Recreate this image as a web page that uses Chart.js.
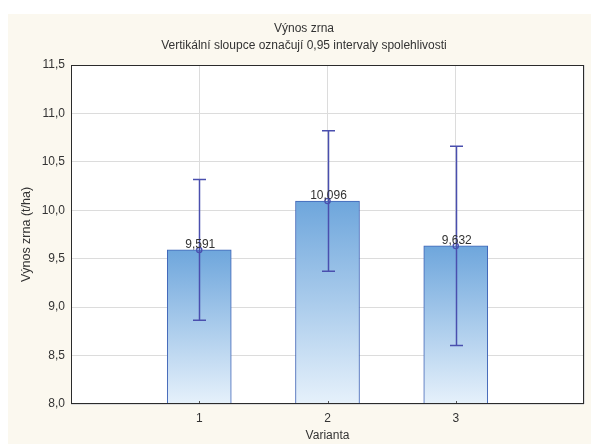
<!DOCTYPE html>
<html>
<head>
<meta charset="utf-8">
<script src="https://cdn.jsdelivr.net/npm/chart.js@4.4.1/dist/chart.umd.min.js"></script>
<style>
  html, body { margin: 0; padding: 0; background: #ffffff; }
  #wrap { width: 591px; height: 444px; position: relative; }
</style>
</head>
<body>
<div id="wrap"><canvas id="c" width="591" height="444"></canvas></div>
<script>
// ---- data ----
const categories = [1, 2, 3];
const means = [9.591, 10.096, 9.632];
const ciUpper = [10.318, 10.822, 10.660];
const ciLower = [8.864, 9.370, 8.605];
const yTicks = [8.0, 8.5, 9.0, 9.5, 10.0, 10.5, 11.0, 11.5];
const titleText = 'Výnos zrna';
const subtitleText = 'Vertikální sloupce označují 0,95 intervaly spolehlivosti';
const yTitle = 'Výnos zrna (t/ha)';
const xTitle = 'Varianta';

const FONT = '"Liberation Sans", Arial, sans-serif';
const TXT = '#333333';
const ERR = '#4a4fae';

const fmt = (v, d) => v.toFixed(d).replace('.', ',');

const bgPlugin = {
  id: 'bg',
  beforeDraw(chart) {
    const { ctx, chartArea: a } = chart;
    ctx.save();
    ctx.fillStyle = '#fbf8ef';
    ctx.fillRect(8, 14, chart.width - 8, chart.height - 14);
    ctx.fillStyle = '#ffffff';
    ctx.fillRect(a.left, a.top, a.right - a.left, a.bottom - a.top);
    ctx.fillStyle = TXT;
    ctx.font = '12px ' + FONT;
    ctx.textAlign = 'center';
    ctx.textBaseline = 'middle';
    ctx.fillText(titleText, 304, 29);
    ctx.fillText(subtitleText, 304, 46);
    ctx.restore();
  },
  afterDatasetsDraw(chart) {
    const { ctx, chartArea: a } = chart;
    const xs = chart.scales.x, ys = chart.scales.y;
    ctx.save();
    // error bars
    ctx.strokeStyle = ERR;
    ctx.lineWidth = 1.5;
    categories.forEach((c, i) => {
      const x = Math.round(xs.getPixelForValue(c)) + 0.5;
      const yu = ys.getPixelForValue(ciUpper[i]);
      const yl = ys.getPixelForValue(ciLower[i]);
      ctx.beginPath();
      ctx.moveTo(x, yu); ctx.lineTo(x, yl);
      ctx.moveTo(x - 6.5, yu); ctx.lineTo(x + 6.5, yu);
      ctx.moveTo(x - 6.5, yl); ctx.lineTo(x + 6.5, yl);
      ctx.stroke();
    });
    // small inner ticks at bottom
    ctx.strokeStyle = '#555';
    ctx.lineWidth = 1;
    categories.forEach((c) => {
      const x = Math.round(xs.getPixelForValue(c)) + 0.5;
      ctx.beginPath();
      ctx.moveTo(x, a.bottom); ctx.lineTo(x, a.bottom - 3);
      ctx.stroke();
    });
    // frame
    ctx.strokeStyle = '#2b2b2b';
    ctx.lineWidth = 1;
    ctx.strokeRect(Math.round(a.left) + 0.5, Math.round(a.top) + 0.5,
      Math.round(a.right - a.left) - 1, Math.round(a.bottom - a.top) - 1);
    // value labels
    ctx.fillStyle = TXT;
    ctx.font = '12px ' + FONT;
    ctx.textAlign = 'center';
    ctx.textBaseline = 'bottom';
    categories.forEach((c, i) => {
      const x = xs.getPixelForValue(c);
      const y = ys.getPixelForValue(means[i]);
      ctx.fillText(fmt(means[i], 3), x + 1, y + 1);
    });
    ctx.restore();
  }
};

function barGradient(context) {
  const chart = context.chart;
  const a = chart.chartArea;
  if (!a) return '#8fbbe6';
  const ys = chart.scales.y;
  const v = means[context.dataIndex];
  const top = ys.getPixelForValue(v);
  const g = chart.ctx.createLinearGradient(0, top, 0, a.bottom);
  g.addColorStop(0, '#6ea6dc');
  g.addColorStop(1, '#e6f1fb');
  return g;
}

new Chart(document.getElementById('c'), {
  data: {
    datasets: [
      {
        type: 'bar',
        data: categories.map((c, i) => ({ x: c, y: means[i] })),
        backgroundColor: barGradient,
        borderColor: '#3e63b6',
        borderWidth: 1,
        borderSkipped: 'bottom',
        barThickness: 64,
        base: 8,
        order: 2
      },
      {
        type: 'line',
        data: categories.map((c, i) => ({ x: c, y: means[i] })),
        showLine: false,
        pointStyle: 'circle',
        pointRadius: 2.6,
        pointBorderWidth: 1.3,
        pointBorderColor: ERR,
        pointBackgroundColor: 'rgba(255,255,255,0)',
        order: 1
      }
    ]
  },
  options: {
    responsive: false,
    animation: false,
    devicePixelRatio: 1,
    layout: { padding: { top: 65, left: 0, right: 7, bottom: 0 } },
    plugins: { legend: { display: false }, tooltip: { enabled: false }, title: { display: false } },
    scales: {
      x: {
        type: 'linear',
        min: 0, max: 4,
        offset: false,
        afterFit(s) { s.height = 40; },
        grid: { color: '#dcdcdc', lineWidth: 1, drawTicks: false, offset: false },
        border: { display: false },
        ticks: {
          stepSize: 1,
          autoSkip: false,
          padding: 7,
          color: TXT,
          font: { family: FONT, size: 12 },
          callback: (v) => categories.includes(v) ? String(v) : ''
        },
        title: {
          display: true, text: xTitle, color: TXT,
          font: { family: FONT, size: 12 },
          padding: { top: 0, bottom: 1 }
        }
      },
      y: {
        type: 'linear',
        min: yTicks[0], max: yTicks[yTicks.length - 1],
        afterFit(s) { s.width = 71; },
        grid: { color: '#dcdcdc', lineWidth: 1, drawTicks: false },
        border: { display: false },
        ticks: {
          stepSize: yTicks[1] - yTicks[0],
          autoSkip: false,
          padding: 6,
          color: TXT,
          font: { family: FONT, size: 12 },
          callback: (v) => fmt(v, 1)
        },
        title: {
          display: true, text: yTitle, color: TXT,
          font: { family: FONT, size: 12.5 },
          padding: { top: 19, bottom: 0 }
        }
      }
    }
  },
  plugins: [bgPlugin]
});
</script>
</body>
</html>
